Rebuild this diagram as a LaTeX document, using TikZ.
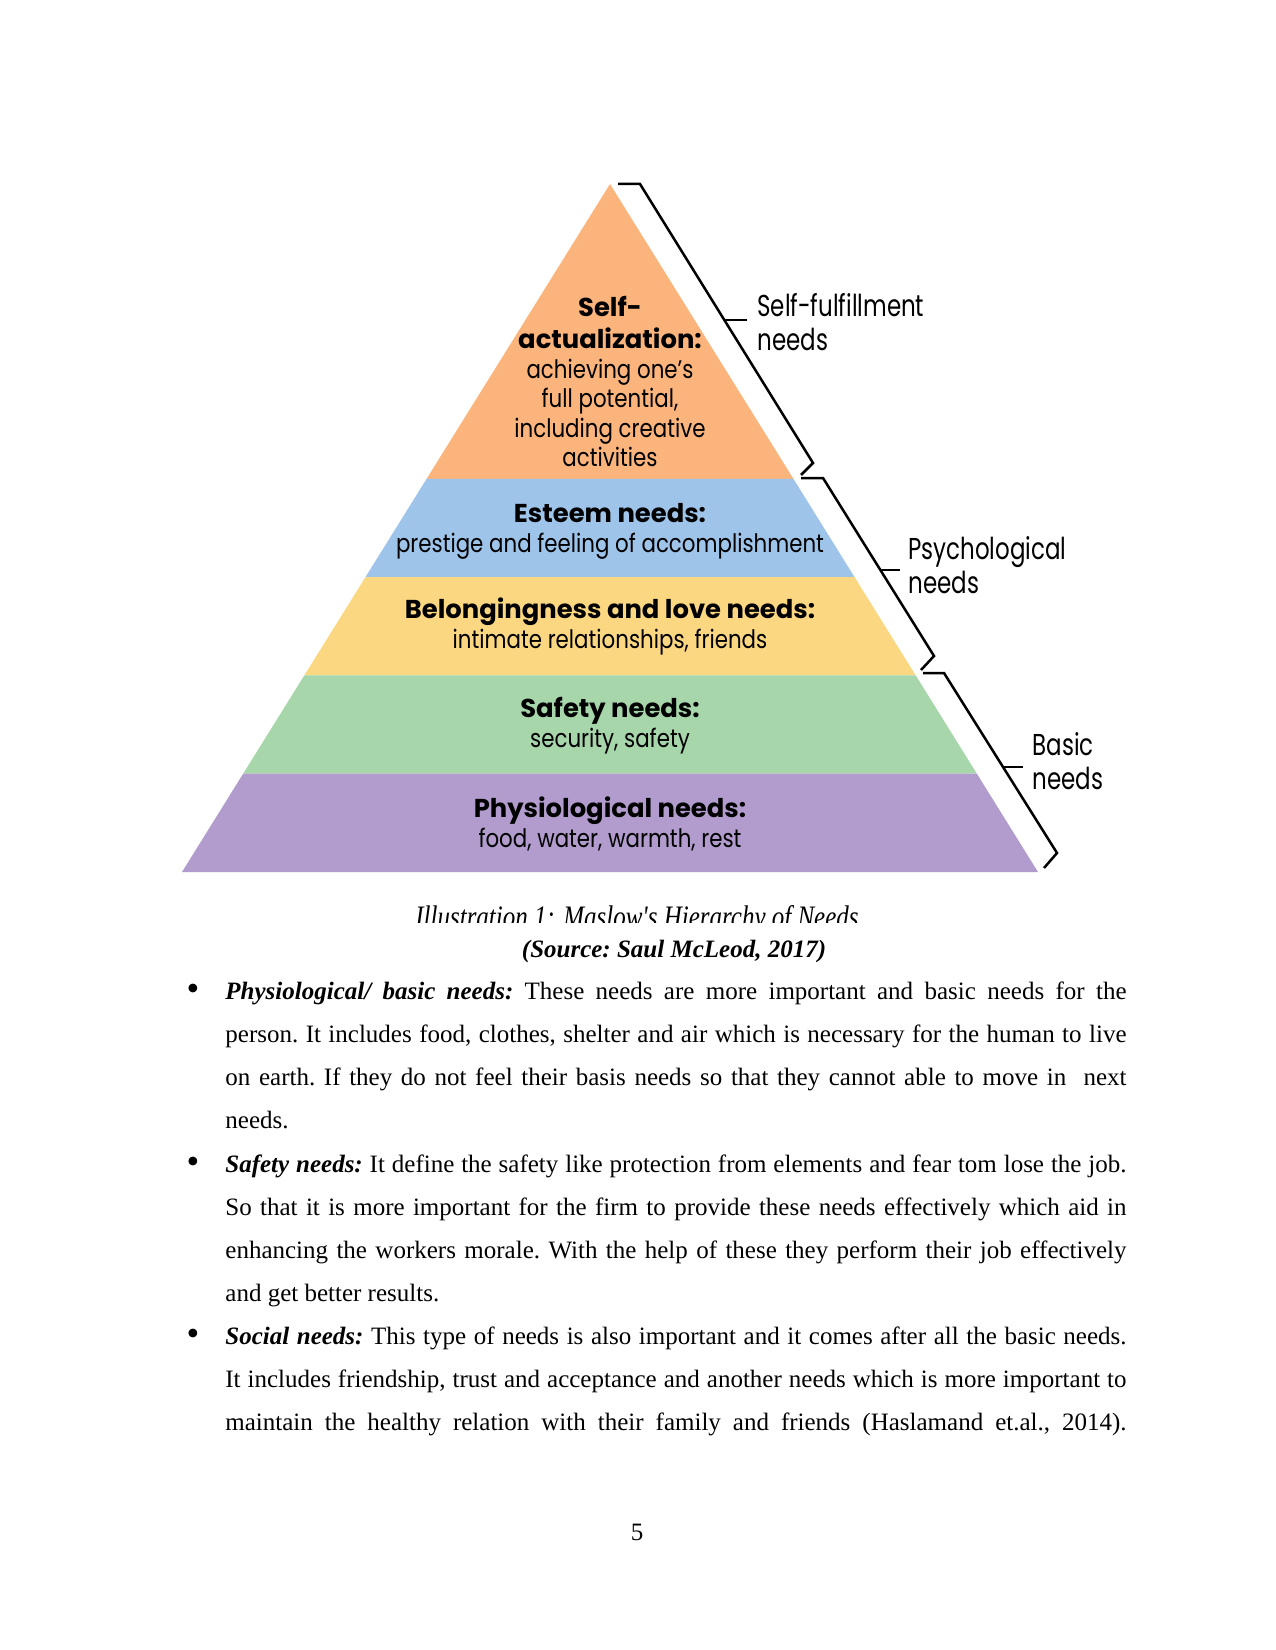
\documentclass[tikz,border=0pt]{standalone}
\usepackage{fontspec}
\setmainfont{Liberation Serif}
\newfontfamily\pyrfont[FakeStretch=0.84]{Poppins}
\newfontfamily\pyrheavy{Poppins}
\newfontfamily\sidefont[FakeStretch=0.76]{Poppins}
\newfontfamily\capfont[FakeStretch=0.8]{Liberation Serif}
\usetikzlibrary{calc}

\definecolor{selfcol}{RGB}{250,180,124}
\definecolor{esteemcol}{RGB}{158,196,234}
\definecolor{lovecol}{RGB}{251,215,130}
\definecolor{safecol}{RGB}{166,214,170}
\definecolor{physcol}{RGB}{177,156,205}

\newcommand{\bandhead}[1]{{\pyrheavy\bfseries\fontsize{12.4}{14}\selectfont #1}}

\begin{document}
\begin{tikzpicture}[
  x=0.48pt, y=-0.48pt,
  bandlabel/.style={anchor=base, align=center, inner sep=0pt,
    font=\pyrfont\fontsize{12.2}{14.2}\selectfont},
  sidelabel/.style={anchor=west, align=left, inner sep=0pt,
    font=\sidefont\fontsize{14.5}{16.3}\selectfont},
  brace/.style={line width=1.2pt, line join=miter},
  bodytext/.style={anchor=base west, inner sep=0pt, text width=5.985in, align=justify,
    font=\fontsize{12}{20.64}\selectfont},
  bulletmark/.style={anchor=center, inner sep=0pt, font=\fontsize{12}{14}\selectfont}
]
\useasboundingbox (0,0) rectangle (1275,1650);

% ----------------- PYRAMID -----------------
\coordinate (apex) at (610,184);
\coordinate (bl) at (182,872);
\coordinate (br) at (1038,872);

\fill[selfcol] (apex) -- ($(apex)!3/7!(br)$) -- ($(apex)!3/7!(bl)$) -- cycle;
\fill[esteemcol] ($(apex)!3/7!(bl)$) -- ($(apex)!3/7!(br)$) -- ($(apex)!4/7!(br)$) -- ($(apex)!4/7!(bl)$) -- cycle;
\fill[lovecol] ($(apex)!4/7!(bl)$) -- ($(apex)!4/7!(br)$) -- ($(apex)!5/7!(br)$) -- ($(apex)!5/7!(bl)$) -- cycle;
\fill[safecol] ($(apex)!5/7!(bl)$) -- ($(apex)!5/7!(br)$) -- ($(apex)!6/7!(br)$) -- ($(apex)!6/7!(bl)$) -- cycle;
\fill[physcol] ($(apex)!6/7!(bl)$) -- ($(apex)!6/7!(br)$) -- (br) -- (bl) -- cycle;

% labels sit on the baseline of their last line
\node[bandlabel] (self) at (610,467) {\bandhead{Self-}\\[1pt]\bandhead{actualization:}\\achieving one’s\\full potential,\\including creative\\activities};
\node[bandlabel] (esteem) at (610,552) {\bandhead{Esteem needs:}\\prestige and feeling of accomplishment};
\node[bandlabel] (love) at (610,648) {\bandhead{Belongingness and love needs:}\\intimate relationships, friends};
\node[bandlabel] (safety) at (610,747) {\bandhead{Safety needs:}\\security, safety};
\node[bandlabel] (physio) at (610,847) {\bandhead{Physiological needs:}\\food, water, warmth, rest};

% ----------------- BRACKETS -----------------
\draw[brace] (618,184) -- (640,184) -- (813,463) -- (801,475);
\draw[brace] (724,320) -- (747,320);
\draw[brace] (801,478) -- (823,478) -- (934,656) -- (921,670);
\draw[brace] (880,570) -- (900,570);
\draw[brace] (923,673) -- (944,673) -- (1057,853) -- (1044,868);
\draw[brace] (1003,767) -- (1023,767);

\node[sidelabel] (fulfil) at (757,322) {Self-fulfillment\\needs};
\node[sidelabel] (psych) at (908,565) {Psychological\\needs};
\node[sidelabel] (basic) at (1032,761) {Basic\\needs};

% ----------------- CAPTION -----------------
\begin{scope}
  \clip (300,890) rectangle (980,922);
  \node[anchor=base, inner sep=0pt, font=\capfont\itshape\fontsize{15}{18}\selectfont] (caption) at (637,927) {Illustration 1: Maslow's Hierarchy of Needs};
\end{scope}
\node[anchor=base, inner sep=0pt, font=\fontsize{12}{14}\selectfont] (source) at (674,957) {\frenchspacing\textbf{\textit{(Source: Saul McLeod, 2017)}}};

% ----------------- BODY TEXT -----------------
\node[bulletmark] (b1) at (193,992) {\scalebox{1.45}{\textbullet}};
\node[bodytext] (para1) at (225,999) {\frenchspacing\hyphenpenalty=10000\tolerance=10000
\textbf{\textit{Physiological/ basic needs:}} These needs are more important and basic needs for the\linebreak
person. It includes food, clothes, shelter and air which is necessary for the human to live\linebreak
on earth. If they do not feel their basis needs so that they cannot able to move in \ next\linebreak
needs.\par};

\node[bulletmark] (b2) at (193,1165) {\scalebox{1.45}{\textbullet}};
\node[bodytext] (para2) at (225,1172) {\frenchspacing\hyphenpenalty=10000\tolerance=10000
\textbf{\textit{Safety needs:}} It define the safety like protection from elements and fear tom lose the job.\linebreak
So that it is more important for the firm to provide these needs effectively which aid in\linebreak
enhancing the workers morale. With the help of these they perform their job effectively\linebreak
and get better results.\par};

\node[bulletmark] (b3) at (193,1337) {\scalebox{1.45}{\textbullet}};
\node[bodytext] (para3) at (225,1344) {\frenchspacing\hyphenpenalty=10000\tolerance=10000\parfillskip=0pt
\textbf{\textit{Social needs:}} This type of needs is also important and it comes after all the basic needs.\linebreak
It includes friendship, trust and acceptance and another needs which is more important to\linebreak
maintain the healthy relation with their family and friends (Haslamand et.al., 2014).\par};

% ----------------- PAGE NUMBER -----------------
\node[anchor=base, inner sep=0pt, font=\fontsize{12}{14}\selectfont] (pagenum) at (637,1540) {5};

\end{tikzpicture}
\end{document}
